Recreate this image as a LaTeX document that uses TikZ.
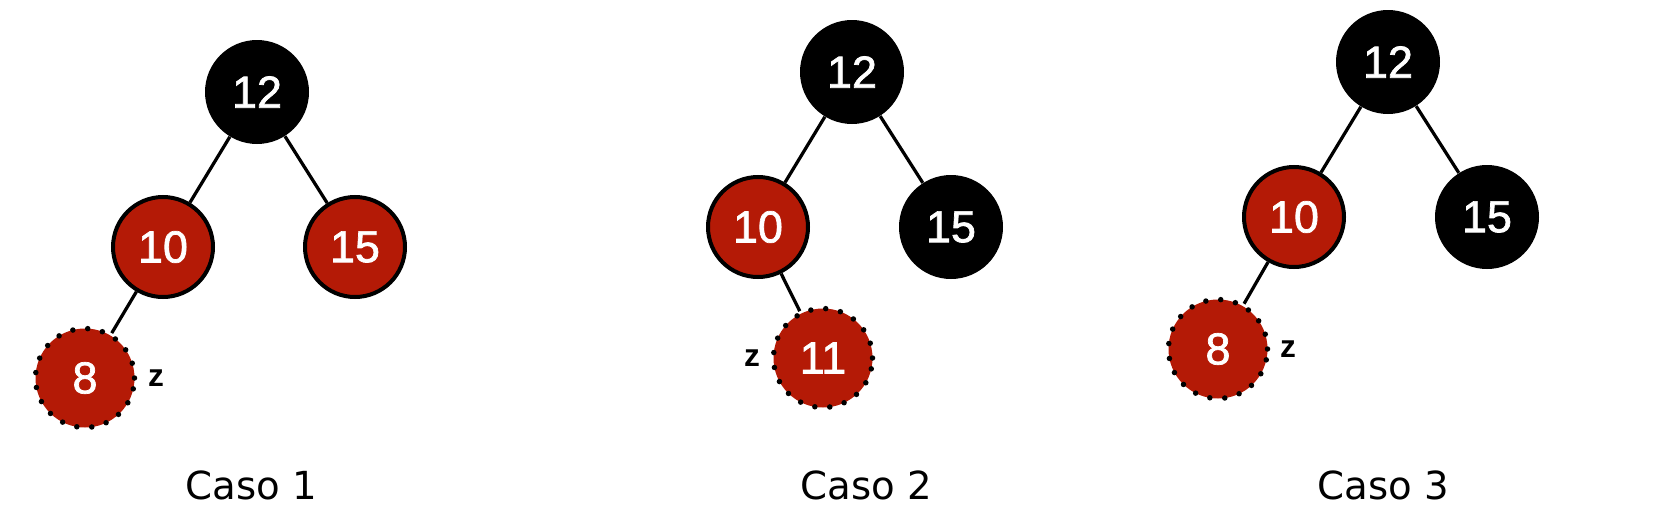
\documentclass[tikz,border=0pt]{standalone}
\usepackage{fontspec}
\setmainfont{Liberation Sans}
\newfontfamily\keyfont[FakeBold=1.6]{Liberation Sans}
\newfontfamily\capfont{DejaVu Sans}
\usepackage{xcolor}
\definecolor{rbred}{RGB}{180,26,6}
\usetikzlibrary{positioning}
\tikzset{
  blacknode/.style={
    circle, fill=black, minimum size=2.08cm, inner sep=0pt,
    text=white, font=\keyfont\fontsize{25.5}{25.5}\selectfont},
  rednode/.style={
    circle, fill=rbred, draw=black, line width=0.08cm,
    minimum size=2.0cm, inner sep=0pt,
    text=white, font=\keyfont\fontsize{25.5}{25.5}\selectfont},
  newnode/.style={
    circle, fill=rbred, draw=black, line width=0.11cm,
    dash pattern=on 0pt off 0.3cm, line cap=round,
    minimum size=1.98cm, inner sep=0pt,
    text=white, font=\keyfont\fontsize{25.5}{25.5}\selectfont},
  zlabel/.style={font=\bfseries\fontsize{18}{18}\selectfont},
  caption/.style={font=\capfont\fontsize{22}{22}\selectfont},
  treeline/.style={line width=0.065cm, black},
}
\begin{document}
\begin{tikzpicture}[on grid]
  \useasboundingbox (0,0) rectangle (33.24,-10.16);
  % Caso 1
  \node[blacknode] (a12) at (5.14,-1.84) {12};
  \node[rednode, below left=3.1cm and 1.88cm of a12] (a10) {10};
  \node[rednode, below right=3.1cm and 1.96cm of a12] (a15) {15};
  \node[newnode, below left=2.62cm and 1.56cm of a10] (a8) {8};
  \node[zlabel, right=1.42cm of a8] (az) {z};
  \draw[treeline] (a12) -- (a10);
  \draw[treeline] (a12) -- (a15);
  \draw[treeline] (a10) -- (a8);
  \node[caption] (cap1) at (5.02,-9.70) {Caso 1};
  % Caso 2
  \node[blacknode] (b12) at (17.04,-1.44) {12};
  \node[rednode, below left=3.1cm and 1.88cm of b12] (b10) {10};
  \node[blacknode, below right=3.1cm and 1.98cm of b12] (b15) {15};
  \node[newnode, below right=2.62cm and 1.30cm of b10] (b11) {11};
  \node[zlabel, left=1.42cm of b11] (bz) {z};
  \draw[treeline] (b12) -- (b10);
  \draw[treeline] (b12) -- (b15);
  \draw[treeline] (b10) -- (b11);
  \node[caption] (cap2) at (17.32,-9.70) {Caso 2};
  % Caso 3
  \node[blacknode] (c12) at (27.76,-1.24) {12};
  \node[rednode, below left=3.1cm and 1.88cm of c12] (c10) {10};
  \node[blacknode, below right=3.1cm and 1.98cm of c12] (c15) {15};
  \node[newnode, below left=2.64cm and 1.52cm of c10] (c8) {8};
  \node[zlabel, right=1.4cm of c8] (cz) {z};
  \draw[treeline] (c12) -- (c10);
  \draw[treeline] (c12) -- (c15);
  \draw[treeline] (c10) -- (c8);
  \node[caption] (cap3) at (27.66,-9.70) {Caso 3};
\end{tikzpicture}
\end{document}
